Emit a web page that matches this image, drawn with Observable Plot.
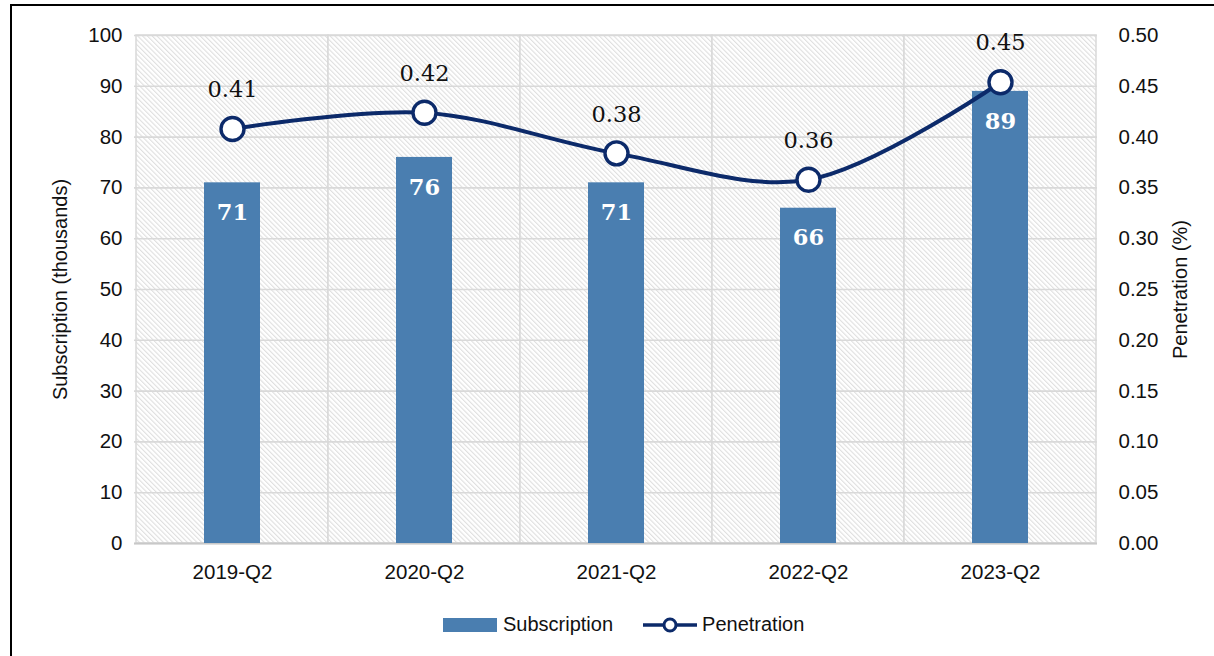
<!DOCTYPE html>
<html>
<head>
<meta charset="utf-8">
<script src="https://cdn.jsdelivr.net/npm/d3@7"></script>
<script src="https://cdn.jsdelivr.net/npm/@observablehq/plot@0.6"></script>
<style>
  html, body { margin: 0; padding: 0; background: #fff; }
  body { width: 1214px; height: 656px; position: relative; overflow: hidden;
         font-family: "Liberation Sans", Arial, sans-serif; }
  #frame { position: absolute; left: 10px; top: 4px; width: 1202px; height: 660px;
           border-left: 2px solid #000; border-top: 2px solid #000; pointer-events: none; }
  #chart { position: absolute; left: 0; top: 0; }
  #legend { position: absolute; left: 443px; top: 613px; display: flex; align-items: center;
            font-size: 20px; color: #111; }
  #legend .item { display: flex; align-items: center; }
</style>
</head>
<body>
<div id="chart"></div>
<div id="legend"></div>
<div id="frame"></div>
<script>
// ---- data ----
const quarters = ["2019-Q2", "2020-Q2", "2021-Q2", "2022-Q2", "2023-Q2"];
const subscription = [71, 76, 71, 66, 89];          // thousands
const penetration = [0.408, 0.424, 0.384, 0.358, 0.454]; // %
const leftTicks = [0, 10, 20, 30, 40, 50, 60, 70, 80, 90, 100];
const seriesNames = ["Subscription", "Penetration"];

const barColor = "#4a7eb0";
const lineColor = "#0c2a6a";
const gridColor = "#d9d9d9";
const sans = "'Liberation Sans', Arial, sans-serif";
const serif = "'DejaVu Serif', serif";

const ratio = 100 / 0.5; // secondary axis 0..0.5 mapped onto 0..100

const rows = quarters.map((q, i) => ({q, sub: subscription[i], pen: penetration[i]}));

const plot = Plot.plot({
  width: 1214,
  height: 600,
  marginLeft: 134,
  marginRight: 117,
  marginTop: 35,
  marginBottom: 57,
  style: {fontFamily: sans, fontSize: "20.5px", color: "#111", background: "transparent"},
  x: {type: "band", domain: quarters, padding: 0},
  y: {domain: [0, 100]},
  marks: [
    Plot.cell(quarters, {x: d => d, fill: "url(#hatch)", stroke: gridColor, strokeWidth: 1.5}),
    Plot.gridY(leftTicks, {stroke: gridColor, strokeOpacity: 1, strokeWidth: 1.6}),
    Plot.ruleY([0], {stroke: "#c8c8c8", strokeWidth: 1.8}),
    Plot.axisY({ticks: leftTicks, tickSize: 0, tickPadding: 12, label: null, fontSize: 20.5}),
    Plot.axisY({anchor: "right", ticks: leftTicks, tickSize: 0, tickPadding: 21, label: null,
                tickFormat: d => (d / ratio).toFixed(2), fontSize: 20.5}),
    Plot.axisX({tickSize: 0, tickPadding: 21, label: null, fontSize: 20.5}),
    Plot.text(["Subscription (thousands)"], {frameAnchor: "left", rotate: -90, dx: -74,
              textAnchor: "middle", fontSize: 20, fill: "#111"}),
    Plot.text(["Penetration (%)"], {frameAnchor: "right", rotate: -90, dx: 83,
              textAnchor: "middle", fontSize: 20, fill: "#111"}),
    Plot.barY(rows, {x: "q", y: "sub", fill: barColor, insetLeft: 68, insetRight: 68}),
    Plot.text(rows, {x: "q", y: "sub", text: d => String(d.sub), dy: 30, fill: "#fff",
              fontFamily: serif, fontWeight: "bold", fontSize: 22.5}),
    Plot.line(rows, {x: "q", y: d => d.pen * ratio, curve: "catmull-rom", stroke: lineColor, strokeWidth: 4}),
    Plot.dot(rows, {x: "q", y: d => d.pen * ratio, r: 11.5, fill: "#fff", stroke: lineColor, strokeWidth: 3.4}),
    Plot.text(rows, {x: "q", y: d => d.pen * ratio, text: d => d.pen.toFixed(2), dy: -39, fill: "#111",
              fontFamily: serif, fontSize: 22.5})
  ]
});

// hatch pattern definition
const defs = d3.select(plot).insert("defs", ":first-child");
const pat = defs.append("pattern").attr("id", "hatch").attr("patternUnits", "userSpaceOnUse")
  .attr("width", 3.4).attr("height", 3.4).attr("patternTransform", "rotate(-45)");
pat.append("rect").attr("width", 3.4).attr("height", 3.4).attr("fill", "#fff");
pat.append("line").attr("x1", 0.6).attr("y1", 0).attr("x2", 0.6).attr("y2", 3.4)
  .attr("stroke", "#dadada").attr("stroke-width", 0.95);

document.getElementById("chart").appendChild(plot);

// legend
const legend = d3.select("#legend");
const it1 = legend.append("div").attr("class", "item");
it1.append("svg").attr("width", 54).attr("height", 14).style("margin-right", "6px")
  .append("rect").attr("width", 54).attr("height", 14).attr("fill", barColor);
it1.append("span").text(seriesNames[0]);
const it2 = legend.append("div").attr("class", "item").style("margin-left", "30px");
const s2 = it2.append("svg").attr("width", 54).attr("height", 18).style("margin-right", "5px");
s2.append("line").attr("x1", 0).attr("x2", 54).attr("y1", 9).attr("y2", 9).attr("stroke", lineColor).attr("stroke-width", 3.5);
s2.append("circle").attr("cx", 27).attr("cy", 9).attr("r", 6).attr("fill", "#fff").attr("stroke", lineColor).attr("stroke-width", 3);
it2.append("span").text(seriesNames[1]);
</script>
</body>
</html>
